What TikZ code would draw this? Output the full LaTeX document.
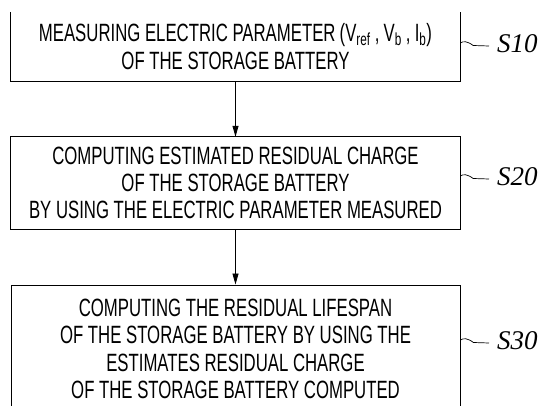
\documentclass[tikz,border=0pt]{standalone}
\usepackage{fontspec}
\setmainfont{Liberation Sans}[FakeStretch=0.67]
\newfontfamily\labelfont{Liberation Serif}
\usetikzlibrary{arrows.meta,calc}
\begin{document}
\begin{tikzpicture}[x=1pt,y=-1pt,
  boxtext/.style={align=center, font=\fontsize{25}{27.3}\selectfont, inner sep=0pt, minimum width=449pt},
  frame/.style={line width=0.9pt},
  flow/.style={line width=0.9pt, -{Triangle[length=11pt,width=6pt]}},
  steplabel/.style={font=\labelfont\itshape\fontsize{27}{27}\selectfont, anchor=west, inner sep=0pt},
  wave/.style={line width=0.7pt}]
\clip (0,0) rectangle (547,406);
\fill[white] (0,0) rectangle (547,406);
% boxes
\node[boxtext, minimum height=69pt] (b1) at (235.5,46.5)
  {MEASURING ELECTRIC PARAMETER\,(V\textsubscript{ref}\,,\,V\textsubscript{b}\,,\,I\textsubscript{b})\\OF THE STORAGE BATTERY};
\node[boxtext, minimum height=92pt] (b2) at (235.5,183)
  {COMPUTING ESTIMATED RESIDUAL CHARGE\\OF THE STORAGE BATTERY\\BY USING THE ELECTRIC PARAMETER MEASURED};
\node[boxtext, minimum height=128pt, draw, line width=0.9pt] (b3) at (235.5,349)
  {COMPUTING THE RESIDUAL LIFESPAN\\OF THE STORAGE BATTERY BY USING THE\\ESTIMATES RESIDUAL CHARGE\\OF THE STORAGE BATTERY COMPUTED};
\draw[frame] (b1.north west) -- (b1.south west) -- (b1.south east) -- (b1.north east);
\draw[frame] (b2.north west) rectangle (b2.south east);
% arrows
\draw[flow] (b1) -- (b2);
\draw[flow] (b2) -- (b3);
% labels
\node[steplabel] (s10) at (497,44) {S10};
\node[steplabel] (s20) at (497,177) {S20};
\node[steplabel] (s30) at (497,341) {S30};
\foreach \b/\s in {b1/s10,b2/s20,b3/s30}{
  \draw[wave] ($(\b.east|-\s.west)+(0,-1)$)
    .. controls ($(\b.east|-\s.west)+(3,-3)$) and ($(\b.east|-\s.west)+(7,-3)$)
    .. ($(\b.east|-\s.west)+(13,1.5)$) -- ($(\s.west)+(-8,2)$);
}
\end{tikzpicture}
\end{document}
